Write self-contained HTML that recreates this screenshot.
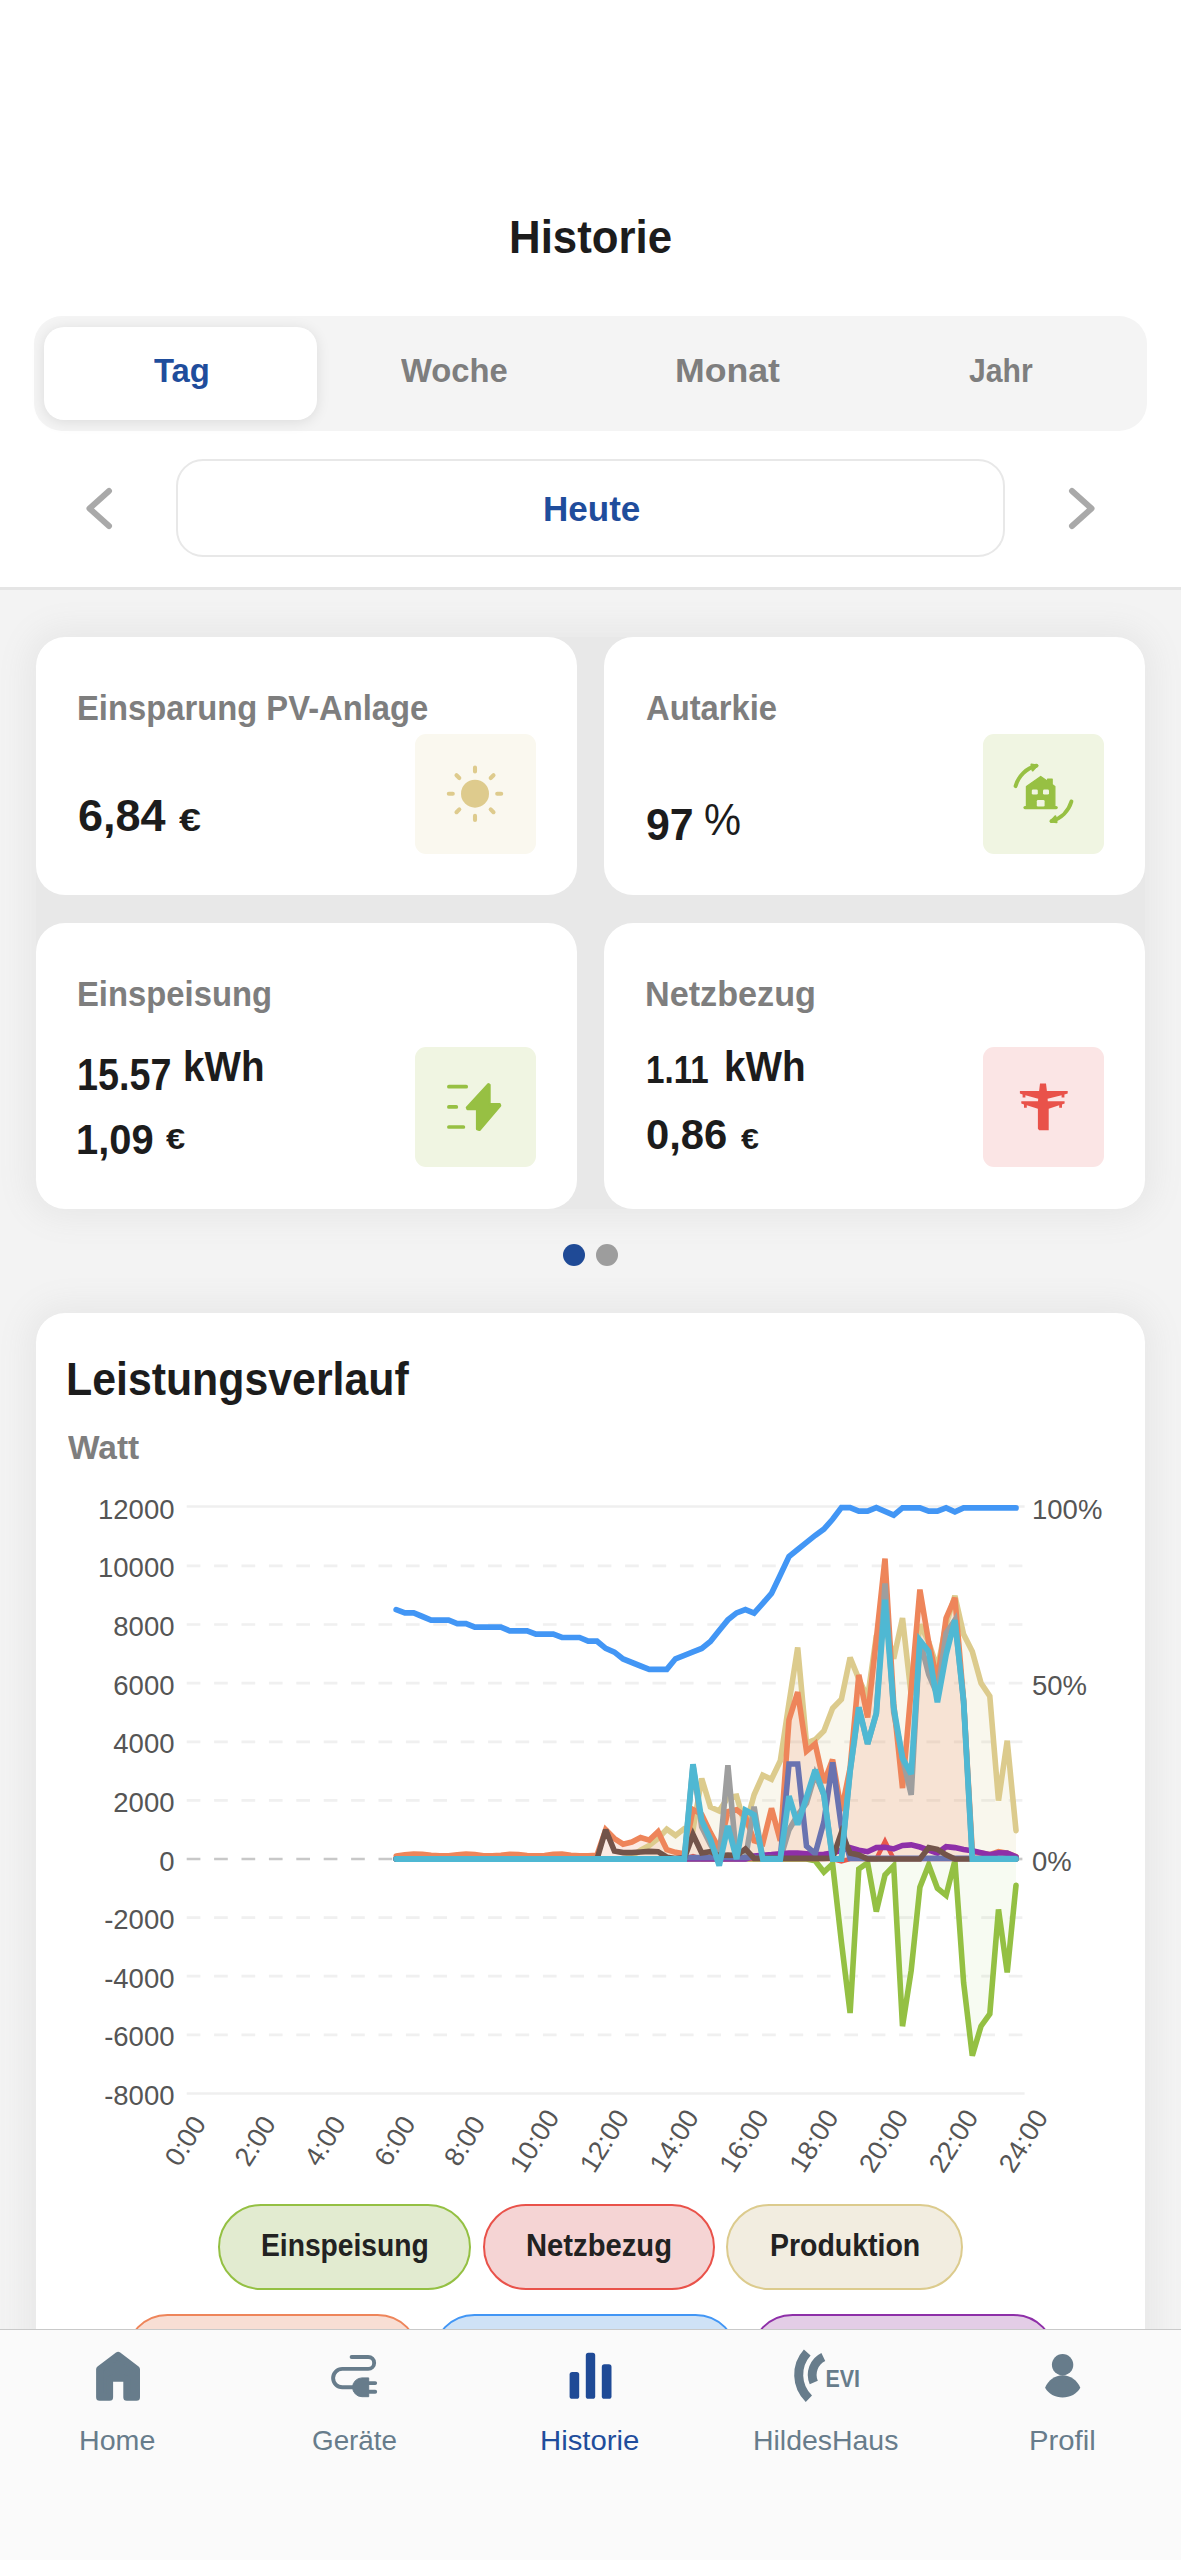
<!DOCTYPE html>
<html lang="de">
<head>
<meta charset="utf-8">
<title>Historie</title>
<style>
*{box-sizing:border-box;margin:0;padding:0}
html,body{width:1181px;height:2560px;overflow:hidden;background:#fff}
body{font-family:"Liberation Sans",sans-serif;position:relative;color:#1c1c1c}
.abs{position:absolute}
.t{position:absolute;white-space:nowrap;line-height:1}
#top{left:0;top:0;width:1181px;height:587px;background:#fff}
#sep{left:0;top:587.4px;width:1181px;height:2.6px;background:#e5e5e5}
#main{left:0;top:590px;width:1181px;height:1740px;background:#f3f3f3}
#seg{left:34px;top:316px;width:1113px;height:115px;border-radius:28px;background:#f4f4f4}
#pill{left:44px;top:327px;width:273px;height:93px;border-radius:20px;background:#fff;box-shadow:0 2px 14px rgba(0,0,0,.10)}
#heute{left:176px;top:459px;width:829px;height:98px;border-radius:27px;border:2px solid #e8e8e8;background:#fff}
.card{position:absolute;background:#fff;border-radius:29px}
.shb{position:absolute;background:#e8e8e8;border-radius:29px;box-shadow:0 0 30px 10px #e8e8e8}
.ico{position:absolute;width:120.5px;height:120.5px;border-radius:11px}
#nav{left:0;top:2328.5px;width:1181px;height:232px;background:#fafafa;border-top:1.6px solid #c9c9c9}
.ax{font-family:"Liberation Sans",sans-serif;font-size:27.5px;fill:#555}
</style>
</head>
<body>
<div class="abs" id="top"></div>
<div class="abs" id="sep"></div>
<div class="abs" id="main"></div>


<div class="abs" id="seg"></div>
<div class="abs" id="pill"></div>

<svg class="abs" style="left:80px;top:480px" width="40" height="56" viewBox="0 0 40 56"><path d="M29 11 L9.5 28.5 L29 46" fill="none" stroke="#a9a9a9" stroke-width="6" stroke-linecap="round" stroke-linejoin="round"/></svg>
<div class="abs" id="heute"></div>
<svg class="abs" style="left:1061px;top:480px" width="40" height="56" viewBox="0 0 40 56"><path d="M11 11 L30.5 28.5 L11 46" fill="none" stroke="#a9a9a9" stroke-width="6" stroke-linecap="round" stroke-linejoin="round"/></svg>

<!-- CARDS -->
<div class="shb" style="left:36px;top:637px;width:1109px;height:572px"></div>
<div class="shb" style="left:36px;top:1313px;width:1109px;height:1100px"></div>
<div class="card" style="left:36px;top:637px;width:541px;height:258px"></div>
<div class="card" style="left:604px;top:637px;width:541px;height:258px"></div>
<div class="card" style="left:36px;top:923px;width:541px;height:286px"></div>
<div class="card" style="left:604px;top:923px;width:541px;height:286px"></div>

<div class="ico" style="left:415px;top:733.5px;background:#faf8ef"></div>

<div class="ico" style="left:983px;top:733.5px;background:#f0f5e2"></div>

<div class="ico" style="left:415px;top:1046.8px;background:#f0f5e2"></div>

<div class="ico" style="left:983px;top:1046.8px;background:#fbe5e5"></div>

<!--ICONS-->
<svg class="abs" style="left:0;top:700px" width="1181" height="500" viewBox="0 700 1181 500">
<circle cx="475.0" cy="793.7" r="14" fill="#decb8d"/>
<path d="M497.2 793.7 L501.2 793.7 M490.7 809.4 L493.5 812.2 M475.0 815.9 L475.0 819.9 M459.3 809.4 L456.5 812.2 M452.8 793.7 L448.8 793.7 M459.3 778.0 L456.5 775.2 M475.0 771.5 L475.0 767.5 M490.7 778.0 L493.5 775.2" stroke="#decb8d" stroke-width="4.1" stroke-linecap="round" fill="none"/>
<g fill="#97c043" stroke="none">
<path d="M1026.4 807 L1026.4 786.4 L1040.7 776.4 L1047.6 781.2 L1047.6 779 L1052.2 779 L1052.2 784.6 L1054.9 786.6 L1054.9 807 Z" stroke="#97c043" stroke-width="1.2" stroke-linejoin="round"/>
<rect x="1023.4" y="806" width="34.4" height="3.2" rx="1.6"/>
</g>
<g fill="#f0f5e2"><rect x="1031.8" y="789.4" width="6" height="5.2" rx="1.4"/><rect x="1043" y="789.4" width="6" height="5.2" rx="1.4"/><rect x="1036.8" y="800" width="7.8" height="6.4" rx="1.2"/></g>
<path d="M1015.6 786.1 A28.5 28.5 0 0 1 1036.4 765.8" fill="none" stroke="#97c043" stroke-width="4" stroke-linecap="round"/>
<path d="M1032.6 770.6 L1037.4 765.4 L1031.4 764.6 Z" fill="#97c043" stroke="#97c043" stroke-width="2" stroke-linejoin="round"/>
<path d="M1071.4 801.5 A28.5 28.5 0 0 1 1051.6 821.0" fill="none" stroke="#97c043" stroke-width="4" stroke-linecap="round"/>
<path d="M1055.4 816.2 L1050.6 821.4 L1056.6 822.2 Z" fill="#97c043" stroke="#97c043" stroke-width="2" stroke-linejoin="round"/>
<path d="M448.9 1086.7 H466.2 M448.9 1106.9 H456.3 M448.9 1127 H463.4" stroke="#97c043" stroke-width="3.7" stroke-linecap="round" fill="none"/>
<path d="M488.4 1084.4 L489.4 1084.9 L489.4 1104.3 L499.6 1104.3 L500 1105.6 L479.4 1129.8 L477.2 1129 L477.2 1109 L467.6 1109 L467 1107.6 Z" fill="#97c043" stroke="#97c043" stroke-width="2.6" stroke-linejoin="round"/>
<g fill="#e9524a">
<path d="M1040 1083.6 L1046 1083.6 L1046.9 1091 L1067.7 1091 L1067.7 1093.4 L1064.4 1094.4 L1064.4 1097.6 L1061.6 1097.6 L1061.6 1095.2 L1047.6 1098.8 L1047.8 1101.3 L1064.6 1101.3 L1064.6 1103.6 L1062 1104.4 L1062 1107.8 L1059.2 1107.8 L1059.2 1105.2 L1048.7 1108.8 L1048.7 1130.2 L1039.2 1130.2 L1037.9 1128.8 L1037.9 1108.8 L1026.8 1105.2 L1026.8 1107.8 L1024 1107.8 L1024 1104.4 L1021.3 1103.6 L1021.3 1101.3 L1038 1101.3 L1038.2 1098.8 L1025.4 1095.2 L1025.4 1097.6 L1022.6 1097.6 L1022.6 1094.4 L1019.9 1093.4 L1019.9 1091 L1039.1 1091 Z"/>
</g>
</svg>
<!--/ICONS-->
<div class="abs" style="left:563px;top:1244px;width:22px;height:22px;border-radius:50%;background:#1f4a96"></div>
<div class="abs" style="left:596px;top:1244px;width:22px;height:22px;border-radius:50%;background:#9d9d9d"></div>

<!-- CHART CARD -->
<div class="card" id="chartcard" style="left:36px;top:1313px;width:1109px;height:1100px"></div>

<!--CHIPS-->
<div class="abs" style="left:217.7px;top:2204.0px;width:253.6px;height:85.5px;border-radius:43px;border:2.8px solid #94c043;background:#e2ebd0"></div>
<div class="abs" style="left:483.0px;top:2204.0px;width:231.6px;height:85.5px;border-radius:43px;border:2.8px solid #e9524a;background:#f5d4d4"></div>
<div class="abs" style="left:726.0px;top:2204.0px;width:237.0px;height:85.5px;border-radius:43px;border:2.8px solid #dccb8d;background:#f2ede0"></div>
<div class="abs" style="left:124.7px;top:2313.7px;width:295.5px;height:85.5px;border-radius:43px;border:2.8px solid #ee855a;background:#f8ded4"></div>
<div class="abs" style="left:431.9px;top:2313.7px;width:306.5px;height:85.5px;border-radius:43px;border:2.8px solid #4296f5;background:#cfe2f6"></div>
<div class="abs" style="left:750.0px;top:2313.7px;width:305.9px;height:85.5px;border-radius:43px;border:2.8px solid #8e2fa8;background:#e3cde6"></div>
<!--/CHIPS-->
<!--TEXT-->
<div class="t" style="left:509.0px;top:214.0px;font-size:46px;font-weight:700;color:#1c1c1c;transform-origin:0 0;transform:scaleX(0.952)">Historie</div>
<div class="t" style="left:153.7px;top:352.5px;font-size:34px;font-weight:700;color:#1f4d9c;transform-origin:0 0;transform:scaleX(0.965)">Tag</div>
<div class="t" style="left:401.0px;top:352.5px;font-size:34px;font-weight:700;color:#7e7e7e;transform-origin:0 0;transform:scaleX(0.964)">Woche</div>
<div class="t" style="left:674.9px;top:352.5px;font-size:34px;font-weight:700;color:#7e7e7e;transform-origin:0 0;transform:scaleX(1.049)">Monat</div>
<div class="t" style="left:968.5px;top:352.5px;font-size:34px;font-weight:700;color:#7e7e7e;transform-origin:0 0;transform:scaleX(0.887)">Jahr</div>
<div class="t" style="left:542.5px;top:491.6px;font-size:35.6px;font-weight:700;color:#1f4d9c;transform-origin:0 0;transform:scaleX(0.984)">Heute</div>
<div class="t" style="left:77.4px;top:690.2px;font-size:35px;font-weight:700;color:#7e7e7e;transform-origin:0 0;transform:scaleX(0.936)">Einsparung PV-Anlage</div>
<div class="t" style="left:646.0px;top:690.2px;font-size:35px;font-weight:700;color:#7e7e7e;transform-origin:0 0;transform:scaleX(0.936)">Autarkie</div>
<div class="t" style="left:77.1px;top:976.1px;font-size:35px;font-weight:700;color:#7e7e7e;transform-origin:0 0;transform:scaleX(0.937)">Einspeisung</div>
<div class="t" style="left:645.3px;top:976.1px;font-size:35px;font-weight:700;color:#7e7e7e;transform-origin:0 0;transform:scaleX(0.977)">Netzbezug</div>
<div class="t" style="left:77.6px;top:795.2px;font-size:43.5px;font-weight:700;color:#1c1c1c;transform-origin:0 0;transform:scaleX(1.035)">6,84</div>
<div class="t" style="left:179.0px;top:805.1px;font-size:31px;font-weight:700;color:#1c1c1c;transform-origin:0 0;transform:scaleX(1.271)">€</div>
<div class="t" style="left:646.0px;top:801.9px;font-size:45px;font-weight:700;color:#1c1c1c;transform-origin:0 0;transform:scaleX(0.952)">97</div>
<div class="t" style="left:704.1px;top:797.6px;font-size:44px;font-weight:400;color:#1c1c1c;transform-origin:0 0;transform:scaleX(0.946)">%</div>
<div class="t" style="left:76.6px;top:1053.3px;font-size:44px;font-weight:700;color:#1c1c1c;transform-origin:0 0;transform:scaleX(0.857)">15.57</div>
<div class="t" style="left:182.7px;top:1046.0px;font-size:42.5px;font-weight:700;color:#1c1c1c;transform-origin:0 0;transform:scaleX(0.908)">kWh</div>
<div class="t" style="left:76.4px;top:1119.4px;font-size:42px;font-weight:700;color:#1c1c1c;transform-origin:0 0;transform:scaleX(0.949)">1,09</div>
<div class="t" style="left:166.0px;top:1124.9px;font-size:29px;font-weight:700;color:#1c1c1c;transform-origin:0 0;transform:scaleX(1.188)">€</div>
<div class="t" style="left:645.6px;top:1051.3px;font-size:38px;font-weight:700;color:#1c1c1c;transform-origin:0 0;transform:scaleX(0.873)">1.11</div>
<div class="t" style="left:724.2px;top:1046.0px;font-size:42.5px;font-weight:700;color:#1c1c1c;transform-origin:0 0;transform:scaleX(0.910)">kWh</div>
<div class="t" style="left:645.5px;top:1113.2px;font-size:43px;font-weight:700;color:#1c1c1c;transform-origin:0 0;transform:scaleX(0.972)">0,86</div>
<div class="t" style="left:740.5px;top:1124.9px;font-size:29px;font-weight:700;color:#1c1c1c;transform-origin:0 0;transform:scaleX(1.112)">€</div>
<div class="t" style="left:66.0px;top:1356.1px;font-size:46px;font-weight:700;color:#1c1c1c;transform-origin:0 0;transform:scaleX(0.931)">Leistungsverlauf</div>
<div class="t" style="left:67.8px;top:1430.7px;font-size:33.2px;font-weight:700;color:#7e7e7e;transform-origin:0 0;transform:scaleX(1.008)">Watt</div>
<div class="t" style="left:261.2px;top:2230.4px;font-size:31.4px;font-weight:700;color:#222222;transform-origin:0 0;transform:scaleX(0.899)">Einspeisung</div>
<div class="t" style="left:526.1px;top:2230.4px;font-size:31.4px;font-weight:700;color:#222222;transform-origin:0 0;transform:scaleX(0.930)">Netzbezug</div>
<div class="t" style="left:769.6px;top:2230.4px;font-size:31.4px;font-weight:700;color:#222222;transform-origin:0 0;transform:scaleX(0.907)">Produktion</div>
<!--/TEXT-->
<!--CHART-->
<svg class="abs" style="left:0;top:1480px" width="1181" height="760" viewBox="0 1480 1181 760">
<line x1="186.7" x2="1024.6" y1="1506.5" y2="1506.5" stroke="#efefef" stroke-width="2.7"/>
<line x1="186.7" x2="1024.6" y1="1565.9" y2="1565.9" stroke="#f0f0f0" stroke-width="2.7" stroke-dasharray="13.7 13.7"/>
<line x1="186.7" x2="1024.6" y1="1624.5" y2="1624.5" stroke="#f0f0f0" stroke-width="2.7" stroke-dasharray="13.7 13.7"/>
<line x1="186.7" x2="1024.6" y1="1683.1" y2="1683.1" stroke="#f0f0f0" stroke-width="2.7" stroke-dasharray="13.7 13.7"/>
<line x1="186.7" x2="1024.6" y1="1741.8" y2="1741.8" stroke="#f0f0f0" stroke-width="2.7" stroke-dasharray="13.7 13.7"/>
<line x1="186.7" x2="1024.6" y1="1800.4" y2="1800.4" stroke="#f0f0f0" stroke-width="2.7" stroke-dasharray="13.7 13.7"/>
<line x1="186.7" x2="1024.6" y1="1859.0" y2="1859.0" stroke="#c8c8c8" stroke-width="2.7" stroke-dasharray="13.7 13.7"/>
<line x1="186.7" x2="1024.6" y1="1917.6" y2="1917.6" stroke="#f0f0f0" stroke-width="2.7" stroke-dasharray="13.7 13.7"/>
<line x1="186.7" x2="1024.6" y1="1976.2" y2="1976.2" stroke="#f0f0f0" stroke-width="2.7" stroke-dasharray="13.7 13.7"/>
<line x1="186.7" x2="1024.6" y1="2034.9" y2="2034.9" stroke="#f0f0f0" stroke-width="2.7" stroke-dasharray="13.7 13.7"/>
<line x1="186.7" x2="1024.6" y1="2093.5" y2="2093.5" stroke="#efefef" stroke-width="2.7"/>
<text x="174.5" y="1518.8" text-anchor="end" class="ax">12000</text>
<text x="174.5" y="1577.4" text-anchor="end" class="ax">10000</text>
<text x="174.5" y="1636.0" text-anchor="end" class="ax">8000</text>
<text x="174.5" y="1694.6" text-anchor="end" class="ax">6000</text>
<text x="174.5" y="1753.3" text-anchor="end" class="ax">4000</text>
<text x="174.5" y="1811.9" text-anchor="end" class="ax">2000</text>
<text x="174.5" y="1870.5" text-anchor="end" class="ax">0</text>
<text x="174.5" y="1929.1" text-anchor="end" class="ax">-2000</text>
<text x="174.5" y="1987.7" text-anchor="end" class="ax">-4000</text>
<text x="174.5" y="2046.4" text-anchor="end" class="ax">-6000</text>
<text x="174.5" y="2105.0" text-anchor="end" class="ax">-8000</text>
<text x="1032" y="1518.8" text-anchor="start" class="ax">100%</text>
<text x="1032" y="1694.6" text-anchor="start" class="ax">50%</text>
<text x="1032" y="1870.5" text-anchor="start" class="ax">0%</text>
<text transform="translate(185.2 2140.8) rotate(-58)" x="0" y="9.3" text-anchor="middle" class="ax" style="font-size:27px">0:00</text>
<text transform="translate(255.0 2140.8) rotate(-58)" x="0" y="9.3" text-anchor="middle" class="ax" style="font-size:27px">2:00</text>
<text transform="translate(324.9 2140.8) rotate(-58)" x="0" y="9.3" text-anchor="middle" class="ax" style="font-size:27px">4:00</text>
<text transform="translate(394.7 2140.8) rotate(-58)" x="0" y="9.3" text-anchor="middle" class="ax" style="font-size:27px">6:00</text>
<text transform="translate(464.5 2140.8) rotate(-58)" x="0" y="9.3" text-anchor="middle" class="ax" style="font-size:27px">8:00</text>
<text transform="translate(534.3 2140.8) rotate(-58)" x="0" y="9.3" text-anchor="middle" class="ax" style="font-size:27px">10:00</text>
<text transform="translate(604.2 2140.8) rotate(-58)" x="0" y="9.3" text-anchor="middle" class="ax" style="font-size:27px">12:00</text>
<text transform="translate(674.0 2140.8) rotate(-58)" x="0" y="9.3" text-anchor="middle" class="ax" style="font-size:27px">14:00</text>
<text transform="translate(743.8 2140.8) rotate(-58)" x="0" y="9.3" text-anchor="middle" class="ax" style="font-size:27px">16:00</text>
<text transform="translate(813.7 2140.8) rotate(-58)" x="0" y="9.3" text-anchor="middle" class="ax" style="font-size:27px">18:00</text>
<text transform="translate(883.5 2140.8) rotate(-58)" x="0" y="9.3" text-anchor="middle" class="ax" style="font-size:27px">20:00</text>
<text transform="translate(953.3 2140.8) rotate(-58)" x="0" y="9.3" text-anchor="middle" class="ax" style="font-size:27px">22:00</text>
<text transform="translate(1023.2 2140.8) rotate(-58)" x="0" y="9.3" text-anchor="middle" class="ax" style="font-size:27px">24:00</text>
<path d="M396.2 1859.0 L396.2 1859.0 L404.9 1859.0 L413.7 1859.0 L422.4 1859.0 L431.1 1859.0 L439.8 1859.0 L448.6 1859.0 L457.3 1859.0 L466.0 1859.0 L474.8 1859.0 L483.5 1859.0 L492.2 1859.0 L500.9 1859.0 L509.7 1859.0 L518.4 1859.0 L527.1 1859.0 L535.9 1859.0 L544.6 1859.0 L553.3 1859.0 L562.0 1859.0 L570.8 1859.0 L579.5 1859.0 L588.2 1859.0 L597.0 1859.0 L605.7 1859.0 L614.4 1859.0 L623.1 1859.0 L631.9 1859.0 L640.6 1859.0 L649.3 1859.0 L658.1 1859.0 L666.8 1859.0 L675.5 1859.0 L684.3 1859.0 L693.0 1859.0 L701.7 1859.0 L710.4 1859.0 L719.2 1859.0 L727.9 1859.0 L736.6 1859.0 L745.4 1859.0 L754.1 1859.0 L762.8 1859.0 L771.5 1859.0 L780.3 1859.0 L789.0 1859.0 L797.7 1859.0 L806.5 1859.0 L815.2 1860.8 L823.9 1872.0 L832.6 1863.9 L841.4 1941.9 L850.1 2013.0 L858.8 1869.0 L867.6 1862.8 L876.3 1911.6 L885.0 1875.0 L893.7 1865.9 L902.5 2026.2 L911.2 1970.4 L919.9 1887.2 L928.7 1864.9 L937.4 1888.2 L946.1 1895.3 L954.9 1860.8 L963.6 1982.6 L972.3 2055.6 L981.0 2026.2 L989.8 2014.0 L998.5 1909.5 L1007.2 1972.4 L1016.0 1885.2 L1016.0 1859.0Z" fill="#94c043" fill-opacity="0.07" stroke="none"/>
<path d="M396.2 1859.0 L396.2 1859.0 L404.9 1859.0 L413.7 1859.0 L422.4 1859.0 L431.1 1859.0 L439.8 1859.0 L448.6 1859.0 L457.3 1859.0 L466.0 1859.0 L474.8 1859.0 L483.5 1859.0 L492.2 1859.0 L500.9 1859.0 L509.7 1859.0 L518.4 1859.0 L527.1 1859.0 L535.9 1859.0 L544.6 1859.0 L553.3 1859.0 L562.0 1859.0 L570.8 1859.0 L579.5 1859.0 L588.2 1859.0 L597.0 1859.0 L605.7 1859.0 L614.4 1859.0 L623.1 1859.0 L631.9 1856.1 L640.6 1850.2 L649.3 1845.5 L658.1 1838.5 L666.8 1829.3 L675.5 1835.4 L684.3 1828.6 L693.0 1829.7 L701.7 1778.5 L710.4 1807.0 L719.2 1811.0 L727.9 1797.4 L736.6 1796.1 L745.4 1826.8 L754.1 1794.8 L762.8 1775.2 L771.5 1779.3 L780.3 1760.8 L789.0 1703.0 L797.7 1647.5 L806.5 1743.2 L815.2 1739.7 L823.9 1730.9 L832.6 1708.3 L841.4 1699.3 L850.1 1657.6 L858.8 1678.9 L867.6 1697.8 L876.3 1636.2 L885.0 1624.5 L893.7 1658.7 L902.5 1618.1 L911.2 1695.2 L919.9 1624.5 L928.7 1642.1 L937.4 1668.5 L946.1 1624.5 L954.9 1595.8 L963.6 1634.3 L972.3 1651.5 L981.0 1683.0 L989.8 1696.2 L998.5 1800.6 L1007.2 1740.7 L1016.0 1830.6 L1016.0 1859.0Z" fill="#dccb8d" fill-opacity="0.16" stroke="none"/>
<path d="M396.2 1859.0 L396.2 1856.1 L404.9 1854.9 L413.7 1854.0 L422.4 1854.3 L431.1 1855.2 L439.8 1855.8 L448.6 1855.8 L457.3 1854.9 L466.0 1854.0 L474.8 1854.6 L483.5 1855.8 L492.2 1855.8 L500.9 1855.2 L509.7 1854.3 L518.4 1854.6 L527.1 1855.5 L535.9 1855.8 L544.6 1855.5 L553.3 1854.3 L562.0 1854.0 L570.8 1855.2 L579.5 1855.8 L588.2 1855.8 L597.0 1855.2 L605.7 1829.7 L614.4 1838.5 L623.1 1844.2 L631.9 1842.0 L640.6 1837.6 L649.3 1840.1 L658.1 1831.7 L666.8 1849.6 L675.5 1852.3 L684.3 1853.7 L693.0 1809.5 L701.7 1814.4 L710.4 1832.6 L719.2 1848.9 L727.9 1811.7 L736.6 1809.8 L745.4 1816.5 L754.1 1840.8 L762.8 1843.5 L771.5 1808.3 L780.3 1840.8 L789.0 1719.8 L797.7 1692.2 L806.5 1751.1 L815.2 1743.8 L823.9 1782.8 L832.6 1759.6 L841.4 1810.9 L850.1 1768.1 L858.8 1674.9 L867.6 1717.4 L876.3 1639.2 L885.0 1558.6 L893.7 1703.7 L902.5 1788.1 L911.2 1689.0 L919.9 1589.6 L928.7 1642.4 L937.4 1681.1 L946.1 1618.1 L954.9 1597.8 L963.6 1700.7 L972.3 1851.7 L981.0 1853.1 L989.8 1854.6 L998.5 1851.7 L1007.2 1853.1 L1016.0 1856.7 L1016.0 1859.0Z" fill="#ee855a" fill-opacity="0.17" stroke="none"/>
<path d="M396.2 1859.0 L404.9 1859.0 L413.7 1859.0 L422.4 1859.0 L431.1 1859.0 L439.8 1859.0 L448.6 1859.0 L457.3 1859.0 L466.0 1859.0 L474.8 1859.0 L483.5 1859.0 L492.2 1859.0 L500.9 1859.0 L509.7 1859.0 L518.4 1859.0 L527.1 1859.0 L535.9 1859.0 L544.6 1859.0 L553.3 1859.0 L562.0 1859.0 L570.8 1859.0 L579.5 1859.0 L588.2 1859.0 L597.0 1859.0 L605.7 1859.0 L614.4 1859.0 L623.1 1859.0 L631.9 1859.0 L640.6 1859.0 L649.3 1859.0 L658.1 1859.0 L666.8 1859.0 L675.5 1859.0 L684.3 1859.0 L693.0 1859.0 L701.7 1859.0 L710.4 1859.0 L719.2 1859.0 L727.9 1859.0 L736.6 1859.0 L745.4 1859.0 L754.1 1859.0 L762.8 1859.0 L771.5 1859.0 L780.3 1859.0 L789.0 1859.0 L797.7 1859.0 L806.5 1859.0 L815.2 1860.8 L823.9 1872.0 L832.6 1863.9 L841.4 1941.9 L850.1 2013.0 L858.8 1869.0 L867.6 1862.8 L876.3 1911.6 L885.0 1875.0 L893.7 1865.9 L902.5 2026.2 L911.2 1970.4 L919.9 1887.2 L928.7 1864.9 L937.4 1888.2 L946.1 1895.3 L954.9 1860.8 L963.6 1982.6 L972.3 2055.6 L981.0 2026.2 L989.8 2014.0 L998.5 1909.5 L1007.2 1972.4 L1016.0 1885.2" fill="none" stroke="#94c043" stroke-width="5.6" stroke-linejoin="miter" stroke-miterlimit="3" stroke-linecap="round"/>
<path d="M396.2 1859.0 L404.9 1859.0 L413.7 1859.0 L422.4 1859.0 L431.1 1859.0 L439.8 1859.0 L448.6 1859.0 L457.3 1859.0 L466.0 1859.0 L474.8 1859.0 L483.5 1859.0 L492.2 1859.0 L500.9 1859.0 L509.7 1859.0 L518.4 1859.0 L527.1 1859.0 L535.9 1859.0 L544.6 1859.0 L553.3 1859.0 L562.0 1859.0 L570.8 1859.0 L579.5 1859.0 L588.2 1859.0 L597.0 1859.0 L605.7 1859.0 L614.4 1859.0 L623.1 1859.0 L631.9 1856.1 L640.6 1850.2 L649.3 1845.5 L658.1 1838.5 L666.8 1829.3 L675.5 1835.4 L684.3 1828.6 L693.0 1829.7 L701.7 1778.5 L710.4 1807.0 L719.2 1811.0 L727.9 1797.4 L736.6 1796.1 L745.4 1826.8 L754.1 1794.8 L762.8 1775.2 L771.5 1779.3 L780.3 1760.8 L789.0 1703.0 L797.7 1647.5 L806.5 1743.2 L815.2 1739.7 L823.9 1730.9 L832.6 1708.3 L841.4 1699.3 L850.1 1657.6 L858.8 1678.9 L867.6 1697.8 L876.3 1636.2 L885.0 1624.5 L893.7 1658.7 L902.5 1618.1 L911.2 1695.2 L919.9 1624.5 L928.7 1642.1 L937.4 1668.5 L946.1 1624.5 L954.9 1595.8 L963.6 1634.3 L972.3 1651.5 L981.0 1683.0 L989.8 1696.2 L998.5 1800.6 L1007.2 1740.7 L1016.0 1830.6" fill="none" stroke="#dccb8d" stroke-width="5.6" stroke-linejoin="miter" stroke-miterlimit="3" stroke-linecap="round"/>
<path d="M396.2 1856.1 L404.9 1854.9 L413.7 1854.0 L422.4 1854.3 L431.1 1855.2 L439.8 1855.8 L448.6 1855.8 L457.3 1854.9 L466.0 1854.0 L474.8 1854.6 L483.5 1855.8 L492.2 1855.8 L500.9 1855.2 L509.7 1854.3 L518.4 1854.6 L527.1 1855.5 L535.9 1855.8 L544.6 1855.5 L553.3 1854.3 L562.0 1854.0 L570.8 1855.2 L579.5 1855.8 L588.2 1855.8 L597.0 1855.2 L605.7 1829.7 L614.4 1838.5 L623.1 1844.2 L631.9 1842.0 L640.6 1837.6 L649.3 1840.1 L658.1 1831.7 L666.8 1849.6 L675.5 1852.3 L684.3 1853.7 L693.0 1809.5 L701.7 1814.4 L710.4 1832.6 L719.2 1848.9 L727.9 1811.7 L736.6 1809.8 L745.4 1816.5 L754.1 1840.8 L762.8 1843.5 L771.5 1808.3 L780.3 1840.8 L789.0 1719.8 L797.7 1692.2 L806.5 1751.1 L815.2 1743.8 L823.9 1782.8 L832.6 1759.6 L841.4 1810.9 L850.1 1768.1 L858.8 1674.9 L867.6 1717.4 L876.3 1639.2 L885.0 1558.6 L893.7 1703.7 L902.5 1788.1 L911.2 1689.0 L919.9 1589.6 L928.7 1642.4 L937.4 1681.1 L946.1 1618.1 L954.9 1597.8 L963.6 1700.7 L972.3 1851.7 L981.0 1853.1 L989.8 1854.6 L998.5 1851.7 L1007.2 1853.1 L1016.0 1856.7" fill="none" stroke="#ee855a" stroke-width="5.6" stroke-linejoin="miter" stroke-miterlimit="3" stroke-linecap="round"/>
<path d="M396.2 1859.0 L404.9 1859.0 L413.7 1859.0 L422.4 1859.0 L431.1 1859.0 L439.8 1859.0 L448.6 1859.0 L457.3 1859.0 L466.0 1859.0 L474.8 1859.0 L483.5 1859.0 L492.2 1859.0 L500.9 1859.0 L509.7 1859.0 L518.4 1859.0 L527.1 1859.0 L535.9 1859.0 L544.6 1859.0 L553.3 1859.0 L562.0 1859.0 L570.8 1859.0 L579.5 1859.0 L588.2 1859.0 L597.0 1859.0 L605.7 1859.0 L614.4 1859.0 L623.1 1859.0 L631.9 1859.0 L640.6 1859.0 L649.3 1859.0 L658.1 1859.0 L666.8 1859.0 L675.5 1859.0 L684.3 1859.0 L693.0 1856.1 L701.7 1859.0 L710.4 1859.0 L719.2 1859.0 L727.9 1859.0 L736.6 1859.0 L745.4 1859.0 L754.1 1859.0 L762.8 1859.0 L771.5 1859.0 L780.3 1859.0 L789.0 1859.0 L797.7 1859.0 L806.5 1859.0 L815.2 1859.0 L823.9 1859.0 L832.6 1859.0 L841.4 1861.3 L850.1 1859.0 L858.8 1859.0 L867.6 1859.0 L876.3 1859.0 L885.0 1841.4 L893.7 1859.0 L902.5 1859.0 L911.2 1859.0 L919.9 1859.0 L928.7 1859.0 L937.4 1859.0 L946.1 1859.0 L954.9 1859.0 L963.6 1859.0 L972.3 1859.0 L981.0 1859.0 L989.8 1859.0 L998.5 1859.0 L1007.2 1859.0 L1016.0 1859.0" fill="none" stroke="#e8574a" stroke-width="4.5" stroke-linejoin="miter" stroke-miterlimit="3" stroke-linecap="round"/>
<path d="M396.2 1859.0 L404.9 1859.0 L413.7 1859.0 L422.4 1859.0 L431.1 1859.0 L439.8 1859.0 L448.6 1859.0 L457.3 1859.0 L466.0 1859.0 L474.8 1859.0 L483.5 1859.0 L492.2 1859.0 L500.9 1859.0 L509.7 1859.0 L518.4 1859.0 L527.1 1859.0 L535.9 1859.0 L544.6 1859.0 L553.3 1859.0 L562.0 1859.0 L570.8 1859.0 L579.5 1859.0 L588.2 1859.0 L597.0 1859.0 L605.7 1859.0 L614.4 1859.0 L623.1 1859.0 L631.9 1859.0 L640.6 1859.0 L649.3 1859.0 L658.1 1859.0 L666.8 1859.0 L675.5 1859.0 L684.3 1859.0 L693.0 1765.2 L701.7 1826.8 L710.4 1844.3 L719.2 1859.0 L727.9 1765.2 L736.6 1859.0 L745.4 1859.0 L754.1 1806.8 L762.8 1859.0 L771.5 1859.0 L780.3 1859.0 L789.0 1829.7 L797.7 1815.0 L806.5 1803.3 L815.2 1774.0 L823.9 1794.8 L832.6 1859.0 L841.4 1859.0 L850.1 1771.1 L858.8 1707.4 L867.6 1743.9 L876.3 1713.4 L885.0 1583.5 L893.7 1712.5 L902.5 1758.1 L911.2 1794.8 L919.9 1640.4 L928.7 1674.3 L937.4 1694.9 L946.1 1633.3 L954.9 1620.1 L963.6 1701.3 L972.3 1859.0 L981.0 1859.0 L989.8 1859.0 L998.5 1859.0 L1007.2 1859.0 L1016.0 1859.0" fill="none" stroke="#9e9e9e" stroke-width="5.6" stroke-linejoin="miter" stroke-miterlimit="3" stroke-linecap="round"/>
<path d="M396.2 1859.0 L404.9 1859.0 L413.7 1859.0 L422.4 1859.0 L431.1 1859.0 L439.8 1859.0 L448.6 1859.0 L457.3 1859.0 L466.0 1859.0 L474.8 1859.0 L483.5 1859.0 L492.2 1859.0 L500.9 1859.0 L509.7 1859.0 L518.4 1859.0 L527.1 1859.0 L535.9 1859.0 L544.6 1859.0 L553.3 1859.0 L562.0 1859.0 L570.8 1859.0 L579.5 1859.0 L588.2 1859.0 L597.0 1859.0 L605.7 1859.0 L614.4 1859.0 L623.1 1859.0 L631.9 1859.0 L640.6 1859.0 L649.3 1859.0 L658.1 1859.0 L666.8 1859.0 L675.5 1859.0 L684.3 1859.0 L693.0 1859.0 L701.7 1859.0 L710.4 1859.0 L719.2 1859.0 L727.9 1859.0 L736.6 1859.0 L745.4 1859.0 L754.1 1856.1 L762.8 1855.2 L771.5 1854.6 L780.3 1853.7 L789.0 1853.1 L797.7 1853.1 L806.5 1853.7 L815.2 1854.6 L823.9 1854.3 L832.6 1853.1 L841.4 1850.2 L850.1 1847.6 L858.8 1850.2 L867.6 1851.7 L876.3 1847.6 L885.0 1847.3 L893.7 1848.9 L902.5 1845.5 L911.2 1844.9 L919.9 1847.0 L928.7 1850.2 L937.4 1853.1 L946.1 1846.7 L954.9 1847.6 L963.6 1849.6 L972.3 1850.8 L981.0 1852.7 L989.8 1854.8 L998.5 1852.7 L1007.2 1853.1 L1016.0 1856.8" fill="none" stroke="#8e2fa8" stroke-width="5.6" stroke-linejoin="miter" stroke-miterlimit="3" stroke-linecap="round"/>
<path d="M396.2 1859.0 L404.9 1859.0 L413.7 1859.0 L422.4 1859.0 L431.1 1859.0 L439.8 1859.0 L448.6 1859.0 L457.3 1859.0 L466.0 1859.0 L474.8 1859.0 L483.5 1859.0 L492.2 1859.0 L500.9 1859.0 L509.7 1859.0 L518.4 1859.0 L527.1 1859.0 L535.9 1859.0 L544.6 1859.0 L553.3 1859.0 L562.0 1859.0 L570.8 1859.0 L579.5 1859.0 L588.2 1859.0 L597.0 1859.0 L605.7 1859.0 L614.4 1859.0 L623.1 1859.0 L631.9 1859.0 L640.6 1859.0 L649.3 1859.0 L658.1 1859.0 L666.8 1859.0 L675.5 1859.0 L684.3 1857.5 L693.0 1857.5 L701.7 1857.5 L710.4 1857.5 L719.2 1857.5 L727.9 1857.5 L736.6 1857.5 L745.4 1857.5 L754.1 1857.5 L762.8 1857.5 L771.5 1857.5 L780.3 1858.1 L789.0 1764.0 L797.7 1764.0 L806.5 1846.1 L815.2 1853.7 L823.9 1821.8 L832.6 1762.3 L841.4 1827.3 L850.1 1858.4 L858.8 1858.4 L867.6 1858.4 L876.3 1858.4 L885.0 1858.4 L893.7 1858.4 L902.5 1858.4 L911.2 1858.4 L919.9 1858.4 L928.7 1858.4 L937.4 1858.4 L946.1 1858.4 L954.9 1858.4 L963.6 1858.4 L972.3 1858.4 L981.0 1858.4 L989.8 1858.4 L998.5 1858.4 L1007.2 1858.4 L1016.0 1858.4" fill="none" stroke="#6973b0" stroke-width="5.6" stroke-linejoin="miter" stroke-miterlimit="3" stroke-linecap="round"/>
<path d="M396.2 1859.0 L404.9 1859.0 L413.7 1859.0 L422.4 1859.0 L431.1 1859.0 L439.8 1859.0 L448.6 1859.0 L457.3 1859.0 L466.0 1859.0 L474.8 1859.0 L483.5 1859.0 L492.2 1859.0 L500.9 1859.0 L509.7 1859.0 L518.4 1859.0 L527.1 1859.0 L535.9 1859.0 L544.6 1859.0 L553.3 1859.0 L562.0 1859.0 L570.8 1859.0 L579.5 1859.0 L588.2 1859.0 L597.0 1859.0 L605.7 1829.7 L614.4 1851.1 L623.1 1852.6 L631.9 1852.6 L640.6 1852.0 L649.3 1851.4 L658.1 1851.7 L666.8 1857.2 L675.5 1858.4 L684.3 1858.4 L693.0 1834.5 L701.7 1853.0 L710.4 1851.7 L719.2 1855.7 L727.9 1855.0 L736.6 1855.5 L745.4 1848.9 L754.1 1858.4 L762.8 1858.4 L771.5 1858.4 L780.3 1858.4 L789.0 1858.4 L797.7 1858.4 L806.5 1858.4 L815.2 1858.4 L823.9 1858.4 L832.6 1858.1 L841.4 1832.6 L850.1 1853.1 L858.8 1855.0 L867.6 1859.0 L876.3 1859.0 L885.0 1859.0 L893.7 1859.0 L902.5 1859.0 L911.2 1859.0 L919.9 1859.0 L928.7 1847.6 L937.4 1849.3 L946.1 1854.8 L954.9 1859.0 L963.6 1859.0 L972.3 1859.0 L981.0 1859.0 L989.8 1859.0 L998.5 1859.0 L1007.2 1859.0 L1016.0 1859.0" fill="none" stroke="#73544a" stroke-width="5.6" stroke-linejoin="miter" stroke-miterlimit="3" stroke-linecap="round"/>
<path d="M396.2 1859.0 L404.9 1859.0 L413.7 1859.0 L422.4 1859.0 L431.1 1859.0 L439.8 1859.0 L448.6 1859.0 L457.3 1859.0 L466.0 1859.0 L474.8 1859.0 L483.5 1859.0 L492.2 1859.0 L500.9 1859.0 L509.7 1859.0 L518.4 1859.0 L527.1 1859.0 L535.9 1859.0 L544.6 1859.0 L553.3 1859.0 L562.0 1859.0 L570.8 1859.0 L579.5 1859.0 L588.2 1859.0 L597.0 1859.0 L605.7 1859.0 L614.4 1859.0 L623.1 1859.0 L631.9 1859.0 L640.6 1859.0 L649.3 1859.0 L658.1 1859.0 L666.8 1859.0 L675.5 1859.0 L684.3 1859.0 L693.0 1764.3 L701.7 1820.5 L710.4 1839.4 L719.2 1865.7 L727.9 1825.9 L736.6 1859.0 L745.4 1810.3 L754.1 1815.0 L762.8 1859.0 L771.5 1859.0 L780.3 1859.0 L789.0 1796.1 L797.7 1824.6 L806.5 1797.4 L815.2 1769.8 L823.9 1794.8 L832.6 1859.0 L841.4 1859.0 L850.1 1771.1 L858.8 1707.4 L867.6 1743.9 L876.3 1713.4 L885.0 1599.8 L893.7 1707.4 L902.5 1758.1 L911.2 1774.0 L919.9 1640.4 L928.7 1651.5 L937.4 1702.3 L946.1 1654.6 L954.9 1620.1 L963.6 1701.3 L972.3 1859.0 L981.0 1859.0 L989.8 1859.0 L998.5 1859.0 L1007.2 1859.0 L1016.0 1859.0" fill="none" stroke="#4fb8d3" stroke-width="5.8" stroke-linejoin="miter" stroke-miterlimit="3" stroke-linecap="round"/>
<path d="M396.2 1609.6 L404.9 1612.9 L413.7 1612.9 L422.4 1616.5 L431.1 1620.2 L439.8 1620.2 L448.6 1620.2 L457.3 1623.6 L466.0 1623.6 L474.8 1627.2 L483.5 1627.2 L492.2 1627.2 L500.9 1627.2 L509.7 1630.8 L518.4 1630.8 L527.1 1630.8 L535.9 1634.2 L544.6 1634.2 L553.3 1634.2 L562.0 1637.5 L570.8 1637.5 L579.5 1637.5 L588.2 1641.2 L597.0 1641.2 L605.7 1648.4 L614.4 1652.1 L623.1 1659.0 L631.9 1662.5 L640.6 1666.0 L649.3 1669.4 L658.1 1669.4 L666.8 1669.4 L675.5 1658.8 L684.3 1655.3 L693.0 1651.8 L701.7 1648.4 L710.4 1641.5 L719.2 1630.5 L727.9 1619.9 L736.6 1612.9 L745.4 1609.6 L754.1 1613.2 L762.8 1603.3 L771.5 1593.4 L780.3 1575.0 L789.0 1556.5 L797.7 1549.5 L806.5 1542.4 L815.2 1535.4 L823.9 1529.1 L832.6 1519.3 L841.4 1507.6 L850.1 1507.6 L858.8 1511.2 L867.6 1511.2 L876.3 1507.6 L885.0 1511.3 L893.7 1515.1 L902.5 1507.9 L911.2 1507.9 L919.9 1507.9 L928.7 1511.2 L937.4 1511.2 L946.1 1507.9 L954.9 1511.8 L963.6 1507.9 L972.3 1507.9 L981.0 1507.9 L989.8 1507.9 L998.5 1507.9 L1007.2 1507.9 L1016.0 1507.9" fill="none" stroke="#4296f5" stroke-width="5.7" stroke-linejoin="miter" stroke-miterlimit="3" stroke-linecap="round"/>
</svg>
<!--/CHART-->

<!-- NAV -->
<div class="abs" id="nav"></div>
<!--NAVICONS-->
<svg class="abs" style="left:0;top:2340px" width="1181" height="70" viewBox="0 2340 1181 70">
<path d="M118.1 2355.4 L99.6 2369.2 L99.6 2397.2 L109.6 2397.2 L109.6 2381.7 Q109.6 2378.2 113.1 2378.2 L123.3 2378.2 Q126.8 2378.2 126.8 2381.7 L126.8 2397.2 L136.5 2397.2 L136.5 2369.2 Z" fill="#677c8b" stroke="#677c8b" stroke-width="7" stroke-linejoin="round"/>
<path d="M351.6 2357 H368.2 A5.95 5.95 0 0 1 368.2 2368.9 H342.3 A9.2 9.2 0 0 0 342.3 2387.3 H356" fill="none" stroke="#677c8b" stroke-width="3.9" stroke-linecap="round"/>
<path d="M368.7 2377.9 L362 2377.9 A9.4 9.4 0 0 0 362 2396.7 L368.7 2396.7 Z" fill="#677c8b" stroke="#677c8b" stroke-width="1" stroke-linejoin="round"/>
<path d="M368.7 2383.1 H375.2 M368.7 2391.7 H375.2" stroke="#677c8b" stroke-width="3.9" stroke-linecap="round"/>
<rect x="569.6" y="2371.9" width="9.6" height="26.9" rx="2.6" fill="#1f4a96"/>
<rect x="585.8" y="2352.8" width="9.4" height="46.0" rx="2.6" fill="#1f4a96"/>
<rect x="601.8" y="2364.3" width="9.7" height="34.5" rx="2.6" fill="#1f4a96"/>
<path d="M808.87 2398.75 A33.30 33.30 0 0 1 807.25 2352.52" fill="none" stroke="#677c8b" stroke-width="9.0"/>
<path d="M813.77 2382.54 A19.80 19.80 0 0 1 823.32 2357.00" fill="none" stroke="#677c8b" stroke-width="8.8"/>
<text x="825.4" y="2387.3" font-family="Liberation Sans, sans-serif" font-weight="700" font-size="24.4" fill="#677c8b" textLength="34.6" lengthAdjust="spacingAndGlyphs">EVI</text>
<circle cx="1062.6" cy="2364.7" r="10.7" fill="#677c8b"/>
<path d="M1045.1 2387.8 C1048 2380 1055 2375.6 1062.6 2375.2 C1070.2 2375.6 1077.4 2380 1080.3 2387.8 C1077 2394 1070 2397.4 1062.6 2397.4 C1055.2 2397.4 1048.4 2394 1045.1 2387.8 Z" fill="#677c8b"/>
</svg>
<!--/NAVICONS-->
<!--NAVTEXT-->
<div class="t" style="left:79.2px;top:2427.0px;font-size:27.5px;font-weight:400;color:#677c8b;transform-origin:0 0;transform:scaleX(1.040)">Home</div>
<div class="t" style="left:311.7px;top:2427.0px;font-size:27.5px;font-weight:400;color:#677c8b;transform-origin:0 0;transform:scaleX(1.011)">Geräte</div>
<div class="t" style="left:540.0px;top:2427.0px;font-size:27.5px;font-weight:400;color:#1f4d9c;transform-origin:0 0;transform:scaleX(1.066)">Historie</div>
<div class="t" style="left:753.4px;top:2427.0px;font-size:27.5px;font-weight:400;color:#677c8b;transform-origin:0 0;transform:scaleX(1.034)">HildesHaus</div>
<div class="t" style="left:1028.5px;top:2427.0px;font-size:27.5px;font-weight:400;color:#677c8b;transform-origin:0 0;transform:scaleX(1.065)">Profil</div>
<!--/NAVTEXT-->
</body>
</html>
